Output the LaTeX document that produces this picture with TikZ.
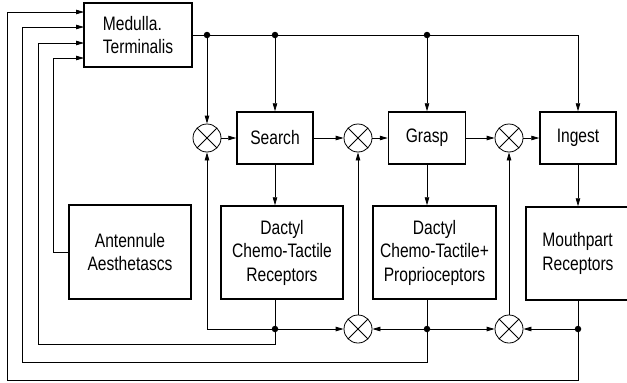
\documentclass[tikz,border=0pt]{standalone}
\usepackage{fontspec}
\setmainfont{Liberation Sans}[FakeStretch=0.8]
\usetikzlibrary{arrows.meta}
\begin{document}
\begin{tikzpicture}[x=1pt,y=-1pt,
  blk/.style={draw, line width=1.5pt, inner sep=0pt, align=center, font=\fontsize{19.5}{23.5}\selectfont},
  sum/.style={draw, circle, line width=0.8pt, minimum size=28pt, inner sep=0pt,
    path picture={\draw[line width=0.8pt] (path picture bounding box.south west) -- (path picture bounding box.north east)
      (path picture bounding box.north west) -- (path picture bounding box.south east);}},
  dot/.style={circle, fill, inner sep=0pt, minimum size=6.5pt},
  wire/.style={line width=0.8pt},
  arr/.style={wire, -{Triangle[length=8pt,width=4.5pt]}}]
\useasboundingbox (0,0) rectangle (627,383);
\node[blk, minimum width=108pt, minimum height=64pt, align=left] (med) at (138,35){Medulla.\\Terminalis};
\node[blk, minimum width=76pt, minimum height=52pt] (search) at (275,138){Search};
\node[blk, minimum width=77pt, minimum height=52pt] (grasp) at (427,138){Grasp};
\node[blk, minimum width=76pt, minimum height=52pt] (ingest) at (578,138){Ingest};
\node[blk, minimum width=122pt, minimum height=94pt] (ant) at (130,252){Antennule\\Aesthetascs};
\node[blk, minimum width=122pt, minimum height=93pt] (dac1) at (282,252.5){Dactyl\\Chemo-Tactile\\Receptors};
\node[blk, minimum width=123pt, minimum height=93pt] (dac2) at (434.5,252.5){Dactyl\\Chemo-Tactile+\\Proprioceptors};
\node[blk, minimum width=104pt, minimum height=93pt, align=left] (mouth) at (578,253.5){Mouthpart\\Receptors};
\node[sum] (s1) at (207,138){};
\node[sum] (s2) at (358,138){};
\node[sum] (s3) at (509,138){};
\node[sum] (s4) at (358,329){};
\node[sum] (s5) at (509,329){};
\node[dot] (t1) at (207,35){};
\node[dot] (t2) at (275,35){};
\node[dot] (t3) at (427,35){};
\node[dot] (b1) at (275,329){};
\node[dot] (b2) at (427,329){};
\node[dot] (b3) at (578,329){};
\coordinate (m1) at (84,12);
\coordinate (m2) at (84,27);
\coordinate (m3) at (84,43);
\coordinate (m4) at (84,58);
\coordinate (k1) at (7,380);
\coordinate (k2) at (22,362);
\coordinate (k3) at (38,344);
\coordinate (k4) at (53,58);
\draw[arr](med) -- (t1) -- (t2) -- (t3) -| (ingest);
\draw[arr](t1) -- (s1);
\draw[arr](t2) -- (search);
\draw[arr](t3) -- (grasp);
\draw[arr](s1) -- (search);
\draw[arr](search) -- (s2);
\draw[arr](s2) -- (grasp);
\draw[arr](grasp) -- (s3);
\draw[arr](s3) -- (ingest);
\draw[arr](search) -- (search |- dac1.north);
\draw[arr](grasp) -- (grasp |- dac2.north);
\draw[arr](ingest) -- (mouth);
\draw[wire](b1 |- dac1.south) -- (b1);
\draw[wire](b2 |- dac2.south) -- (b2);
\draw[wire](mouth) -- (b3);
\draw[arr](b1) -| (s1);
\draw[arr](b1) -- (s4);
\draw[arr](b2) -- (s4);
\draw[arr](b2) -- (s5);
\draw[arr](b3) -- (s5);
\draw[arr](s4) -- (s2);
\draw[arr](s5) -- (s3);
\draw[arr](ant) -| (k4) -- (m4);
\draw[arr](b1) |- (k3) |- (m3);
\draw[arr](b2) |- (k2) |- (m2);
\draw[arr](b3) |- (k1) |- (m1);
\end{tikzpicture}
\end{document}
